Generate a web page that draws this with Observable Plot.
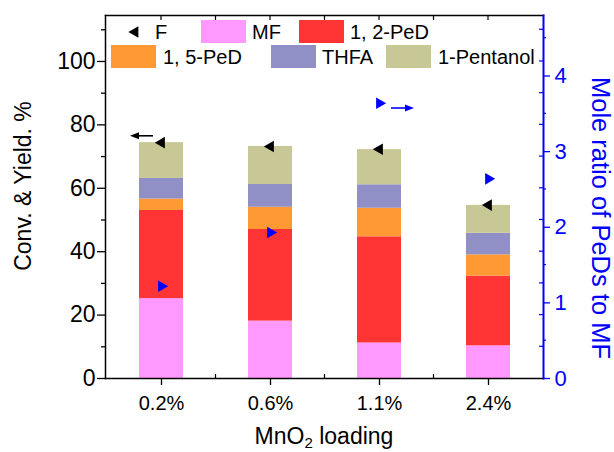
<!DOCTYPE html>
<html><head><meta charset="utf-8">
<script src="https://cdn.jsdelivr.net/npm/d3@7"></script>
<script src="https://cdn.jsdelivr.net/npm/@observablehq/plot@0.6"></script>
<style>body{margin:0;background:#fff} svg{font-family:Arial,"Liberation Sans",sans-serif}</style>
</head><body><div id="chart"></div>
<script>
const categories = ["0.2%", "0.6%", "1.1%", "2.4%"];
const seriesNames = ["MF", "1, 2-PeD", "1, 5-PeD", "THFA", "1-Pentanol"];
const mf = [25.2, 18.1, 11.2, 10.3];
const ped12 = [27.8, 28.9, 33.5, 22.0];
const ped15 = [3.6, 7.0, 9.0, 6.7];
const thfa = [6.5, 7.2, 7.4, 6.8];
const pentanol = [11.3, 12.0, 11.1, 8.8];
const conversionF = [74.4, 73.2, 72.3, 54.7];
const moleRatio = [1.22, 1.93, 3.64, 2.64];
const leftTicks = [0, 20, 40, 60, 80, 100];
const leftMinorTicks = [10, 30, 50, 70, 90, 110];
const rightTicks = [0, 1, 2, 3, 4];
const rightMinorTicks = [0.5, 1.5, 2.5, 3.5, 4.5];
const seriesColors = ["#FF99FF", "#FF3535", "#FF9933", "#9090C6", "#C8C896"];
const arrowF = {cat: "0.2%", y: 76.4};
const arrowRatio = {cat: "1.1%", ratio: 3.57};

const leftMax = 114.5, rightMax = 4.8, k = leftMax / rightMax;
const seriesArrays = [mf, ped12, ped15, thfa, pentanol];
const rows = categories.flatMap((c, i) => seriesArrays.map((arr, j) => ({cat: c, series: seriesNames[j], value: arr[i]})));
const pts = categories.map((c, i) => ({cat: c, f: conversionF[i], ratio: moleRatio[i]}));

const plot = Plot.plot({
  width: 614, height: 452,
  marginLeft: 105, marginRight: 71, marginTop: 15, marginBottom: 74,
  style: {fontFamily: "Arial, 'Liberation Sans', sans-serif", background: "white", color: "black", overflow: "visible"},
  x: {type: "band", domain: categories, paddingInner: 0.6, paddingOuter: 0.3, label: null},
  y: {domain: [0, leftMax], label: null},
  color: {domain: seriesNames, range: seriesColors},
  marks: [
    Plot.barY(rows, {x: "cat", y: "value", fill: "series"}),
    Plot.dot(pts, {x: "cat", y: "f", symbol: "triangle", rotate: -90, r: 4.3, fill: "black"}),
    Plot.dot(pts, {x: "cat", y: d => d.ratio * k, symbol: "triangle", rotate: 90, r: 4.3, fill: "blue"}),
    Plot.frame({anchor: "left", stroke: "black", strokeWidth: 1.5}),
    Plot.frame({anchor: "top", stroke: "black", strokeWidth: 1.5}),
    Plot.frame({anchor: "bottom", stroke: "black", strokeWidth: 1.5}),
    Plot.frame({anchor: "right", stroke: "blue", strokeWidth: 2}),
    Plot.axisY({anchor: "left", ticks: leftTicks, tickSize: 8, tickPadding: 2, fontSize: 23, label: null, strokeWidth: 1.3, ariaLabel: "left-axis"}),
    Plot.axisY({anchor: "left", ticks: leftMinorTicks, tickSize: 4, tickFormat: () => "", label: null, strokeWidth: 1.3}),
    Plot.axisX({anchor: "bottom", tickSize: 7, tickPadding: 10, fontSize: 20, label: null, strokeWidth: 1.3}),
    Plot.axisY({anchor: "right", ticks: rightTicks.map(t => t * k), tickFormat: d => String(Math.round(d / k)), tickSize: 6, tickPadding: 5, fontSize: 22, color: "blue", label: null, strokeWidth: 1.3})
  ]
});
document.getElementById("chart").appendChild(plot);

const svg = d3.select(plot);
// enforce tick label font sizes
svg.selectAll('g[aria-label="x-axis tick label"]').attr("font-size", 20).selectAll("text").attr("font-size", 20);
svg.selectAll('g[aria-label="y-axis tick label"]').each(function () {
  const g = d3.select(this);
  const right = g.attr("text-anchor") === "start";
  g.attr("font-size", right ? 22 : 23).selectAll("text").attr("font-size", right ? 22 : 23);
});

const xs = plot.scale("x"), ys = plot.scale("y");
const bw = xs.bandwidth;
const cx = c => xs.apply(c) + bw / 2;
const yL = v => ys.apply(v);
const [x0, x1] = [105, 614 - 71];
const yTop = yL(leftMax), yBot = yL(0);

// frame decoration ticks
const g = svg.append("g").attr("stroke-width", 1.2);
const step = cx(categories[1]) - cx(categories[0]);
const topTickX = categories.map(cx).concat(categories.slice(0, -1).map(c => cx(c) + step / 2));
topTickX.forEach(x => g.append("line").attr("x1", x).attr("x2", x).attr("y1", yTop).attr("y2", yTop + 5).attr("stroke", "black"));
categories.slice(0, -1).forEach(c => { const x = cx(c) + step / 2; g.append("line").attr("x1", x).attr("x2", x).attr("y1", yBot).attr("y2", yBot - 4).attr("stroke", "black"); });
leftTicks.concat(leftMinorTicks).filter(v => v > 0).forEach(v => g.append("line").attr("x1", x1).attr("x2", x1 - 4).attr("y1", yL(v)).attr("y2", yL(v)).attr("stroke", "blue"));
rightMinorTicks.forEach(v => g.append("line").attr("x1", x1).attr("x2", x1 + 3).attr("y1", yL(v * k)).attr("y2", yL(v * k)).attr("stroke", "blue"));

// arrows
function arrow(xa, xb, y, color) {
  const dir = Math.sign(xb - xa);
  svg.append("line").attr("x1", xa).attr("x2", xb - dir * 6).attr("y1", y).attr("y2", y).attr("stroke", color).attr("stroke-width", 1.6);
  svg.append("path").attr("d", `M${xb},${y}L${xb - dir * 9},${y - 3.5}L${xb - dir * 9},${y + 3.5}Z`).attr("fill", color);
}
arrow(cx(arrowF.cat) - 8, cx(arrowF.cat) - 31, yL(arrowF.y), "black");
arrow(cx(arrowRatio.cat) + 12, cx(arrowRatio.cat) + 35, yL(arrowRatio.ratio * k), "blue");

// legend
const leg = svg.append("g").attr("font-size", 20).attr("fill", "black").attr("text-anchor", "start");
const tri = d3.symbol(d3.symbolTriangle, Math.PI * 4.3 * 4.3)();
leg.append("path").attr("d", tri).attr("transform", "translate(135,32) rotate(-90)").attr("fill", "black");
leg.append("text").attr("x", 155).attr("y", 38.5).text("F");
const legItems = [
  {i: 0, x: 201, y: 20, tx: 252, ty: 38.5},
  {i: 1, x: 299, y: 20, tx: 350, ty: 38.5},
  {i: 2, x: 111, y: 45, tx: 163, ty: 63.5},
  {i: 3, x: 271, y: 45, tx: 322, ty: 63.5},
  {i: 4, x: 386, y: 45, tx: 438, ty: 63.5}
];
legItems.forEach(d => {
  leg.append("rect").attr("x", d.x).attr("y", d.y).attr("width", 45).attr("height", 23).attr("fill", seriesColors[d.i]);
  leg.append("text").attr("x", d.tx).attr("y", d.ty).text(seriesNames[d.i]);
});

// axis titles
svg.append("text").attr("transform", "translate(31,186) rotate(-90)").attr("text-anchor", "middle").attr("font-size", 23).attr("fill", "black").text("Conv. & Yield. %");
svg.append("text").attr("transform", "translate(592,218) rotate(90)").attr("text-anchor", "middle").attr("font-size", 25.5).attr("fill", "blue").text("Mole ratio of PeDs to MF");
const xt = svg.append("text").attr("x", (x0 + x1) / 2).attr("y", 444).attr("text-anchor", "middle").attr("font-size", 23).attr("fill", "black");
xt.append("tspan").text("MnO");
xt.append("tspan").attr("font-size", 15).attr("dy", 4).text("2");
xt.append("tspan").attr("dy", -4).text(" loading");
</script></body></html>
